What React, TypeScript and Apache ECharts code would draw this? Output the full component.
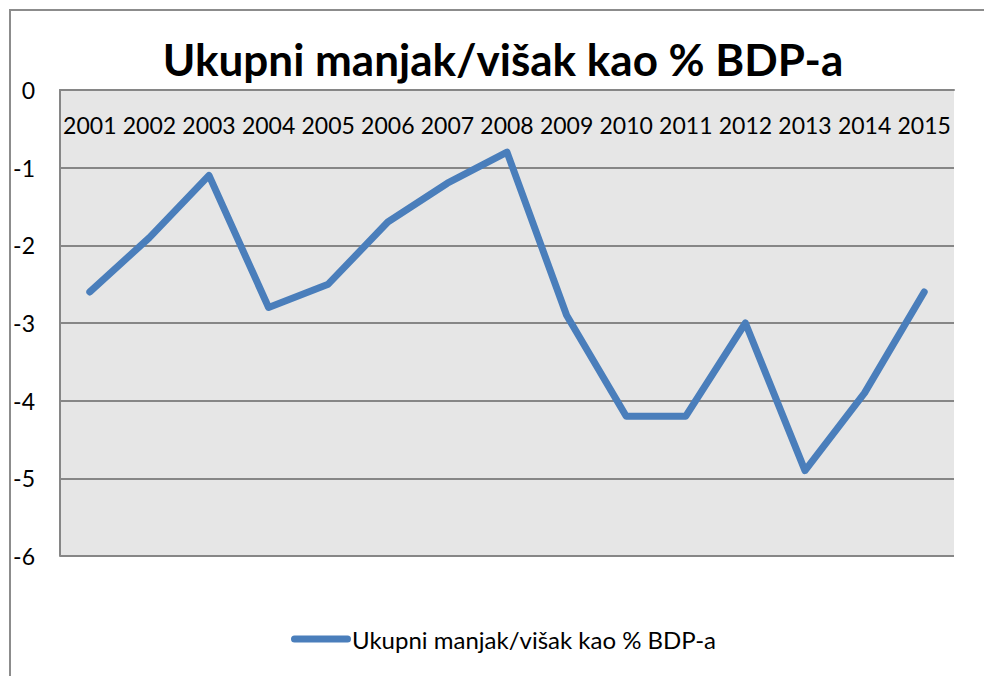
import React, { useEffect, useRef } from "react";
import * as echarts from "echarts";

const categories = ["2001","2002","2003","2004","2005","2006","2007","2008","2009","2010","2011","2012","2013","2014","2015"];
const values = [-2.6, -1.9, -1.1, -2.8, -2.5, -1.7, -1.2, -0.8, -2.9, -4.2, -4.2, -3.0, -4.9, -3.9, -2.6];
const seriesName = "Ukupni manjak/višak kao % BDP-a";
const titleText = "Ukupni manjak/višak kao % BDP-a";

export default function App() {
  const ref = useRef<HTMLDivElement>(null);
  useEffect(() => {
    document.body.style.margin = "0";
    const chart = echarts.init(ref.current!, null, { renderer: "svg" });
    const font = "Lato, 'Open Sans', sans-serif";
    chart.setOption({
      animation: false,
      backgroundColor: "#ffffff",
      textStyle: { fontFamily: font },
      title: {
        text: titleText,
        left: 498,
        textAlign: "center",
        top: 32,
        textStyle: { fontFamily: font, fontWeight: "bold", fontSize: 44, color: "#000000" },
      },
      graphic: [
        {
          type: "rect",
          shape: { x: 10, y: 10, width: 1000, height: 700 },
          style: { fill: "none", stroke: "#8c8c8c", lineWidth: 2 },
          silent: true,
        },
      ],
      legend: {
        bottom: 20,
        left: 286,
        itemWidth: 60,
        itemHeight: 7,
        itemGap: 4,
        data: [{ name: seriesName, icon: "path://M3.5,0 L56.5,0 A3.5,3.5 0 0 1 56.5,7 L3.5,7 A3.5,3.5 0 0 1 3.5,0 Z" }],
        textStyle: { fontFamily: font, fontSize: 24, color: "#000000", padding: [0, 0, 0, -4] },
      },
      grid: { left: 60, right: 30, top: 90, bottom: 120, containLabel: false, show: true, backgroundColor: "#e6e6e6", borderWidth: 0 },
      xAxis: {
        type: "category",
        data: categories,
        position: "top",
        boundaryGap: true,
        axisLine: { show: true, lineStyle: { color: "#868686", width: 2 } },
        axisTick: { show: false },
        axisLabel: { inside: true, margin: 23, fontSize: 23, color: "#000000", fontFamily: font, interval: 0 },
        splitLine: { show: false },
      },
      yAxis: {
        type: "value",
        min: -6,
        max: 0,
        interval: 1,
        axisLine: { show: true, lineStyle: { color: "#868686", width: 2 } },
        axisTick: { show: false },
        axisLabel: { margin: 25, fontSize: 23, color: "#000000", fontFamily: font },
        splitLine: { show: true, lineStyle: { color: "#868686", width: 2 } },
      },
      series: [
        {
          name: seriesName,
          type: "line",
          data: values,
          symbol: "none",
          lineStyle: { color: "#4a7ebb", width: 7, cap: "round", join: "round" },
          itemStyle: { color: "#4a7ebb" },
        },
      ],
    });
    return () => chart.dispose();
  }, []);
  return <div ref={ref} style={{ width: 984, height: 676, position: "absolute", left: 0, top: 0 }} />;
}
